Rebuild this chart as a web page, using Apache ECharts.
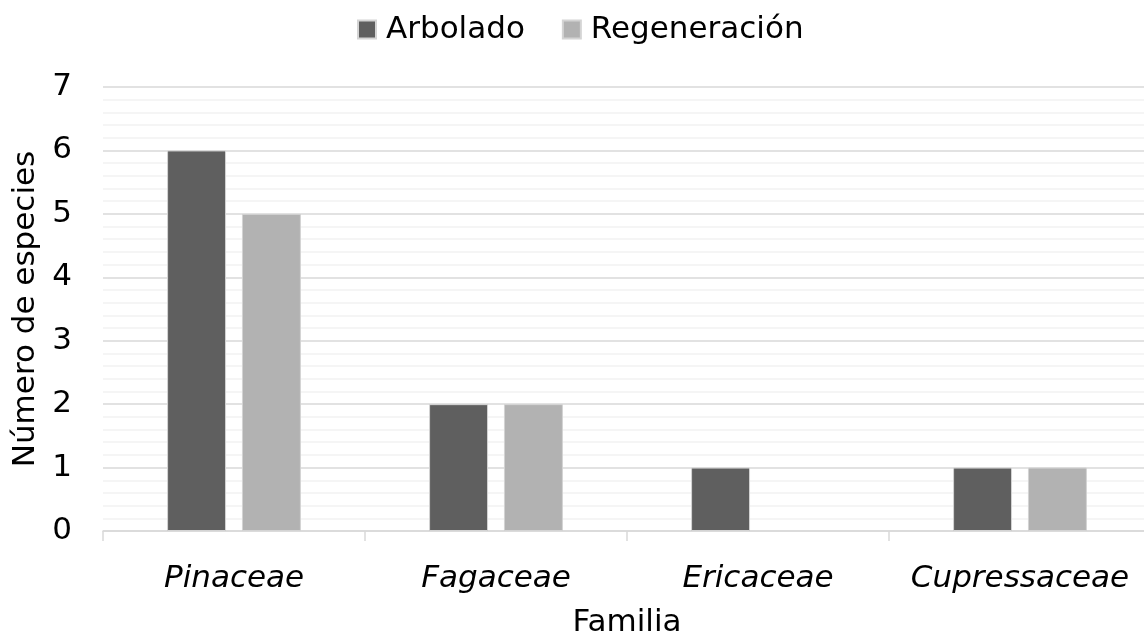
<!DOCTYPE html>
<html>
<head>
<meta charset="utf-8">
<script src="https://cdn.jsdelivr.net/npm/echarts@6/dist/echarts.min.js"></script>
<style>
  html, body { margin: 0; padding: 0; background: #fff; }
  #chart { width: 1144px; height: 637px; }
</style>
</head>
<body>
<div id="chart"></div>
<script>
// familias y número de especies
const familias = ["Pinaceae", "Fagaceae", "Ericaceae", "Cupressaceae"];
const arbolado = [6, 2, 1, 1];
const regeneracion = [5, 2, 0, 1];
const serieNombres = ["Arbolado", "Regeneración"];

const fuente = "DejaVu Sans";
const tam = 31;

// a zero bar should not leave a border line
const barData = (arr) =>
  arr.map((v) => (v === 0 ? { value: v, itemStyle: { borderWidth: 0 } } : v));

const chart = echarts.init(document.getElementById("chart"));
chart.setOption({
  animation: false,
  textStyle: { fontFamily: fuente },
  legend: {
    top: 9,
    left: 352,
    icon: "rect",
    itemWidth: 18,
    itemHeight: 18,
    itemGap: 37,
    textStyle: { fontSize: tam, color: "#000", fontFamily: fuente, padding: [0, 0, 0, 5] },
    data: serieNombres,
  },
  grid: { left: 103, right: -7, top: 87, bottom: 106, containLabel: false, outerBoundsMode: "none" },
  xAxis: {
    type: "category",
    data: familias,
    name: "Familia",
    nameLocation: "middle",
    nameGap: 76,
    nameTextStyle: { fontSize: tam, color: "#000", fontFamily: fuente },
    axisLine: { lineStyle: { color: "#d9d9d9", width: 1.5 } },
    axisTick: { show: true, interval: 0, length: 10, lineStyle: { color: "#d9d9d9", width: 1.5 } },
    axisLabel: { interval: 0, fontSize: tam, color: "#000", fontStyle: "italic", margin: 32, fontFamily: fuente },
  },
  yAxis: {
    type: "value",
    min: 0,
    max: 7,
    interval: 1,
    name: "Número de especies",
    nameLocation: "middle",
    nameGap: 54,
    nameTextStyle: { fontSize: tam, color: "#000", fontFamily: fuente },
    axisLine: { show: false },
    axisTick: { show: false },
    axisLabel: { fontSize: tam, color: "#000", margin: 31, fontFamily: fuente },
    splitLine: { lineStyle: { color: "#d9d9d9", width: 1.5 } },
    minorTick: { show: false, splitNumber: 5 },
    minorSplitLine: { show: true, lineStyle: { color: "#f2f2f2", width: 1.5 } },
  },
  series: [
    {
      name: serieNombres[0],
      type: "bar",
      data: barData(arbolado),
      barWidth: "22.5%",
      barGap: "27%",
      itemStyle: { color: "#5f5f5f", borderColor: "#d4d4d4", borderWidth: 1 },
    },
    {
      name: serieNombres[1],
      type: "bar",
      data: barData(regeneracion),
      barWidth: "22.5%",
      barGap: "27%",
      itemStyle: { color: "#b2b2b2", borderColor: "#d4d4d4", borderWidth: 1 },
    },
  ],
});
</script>
</body>
</html>
